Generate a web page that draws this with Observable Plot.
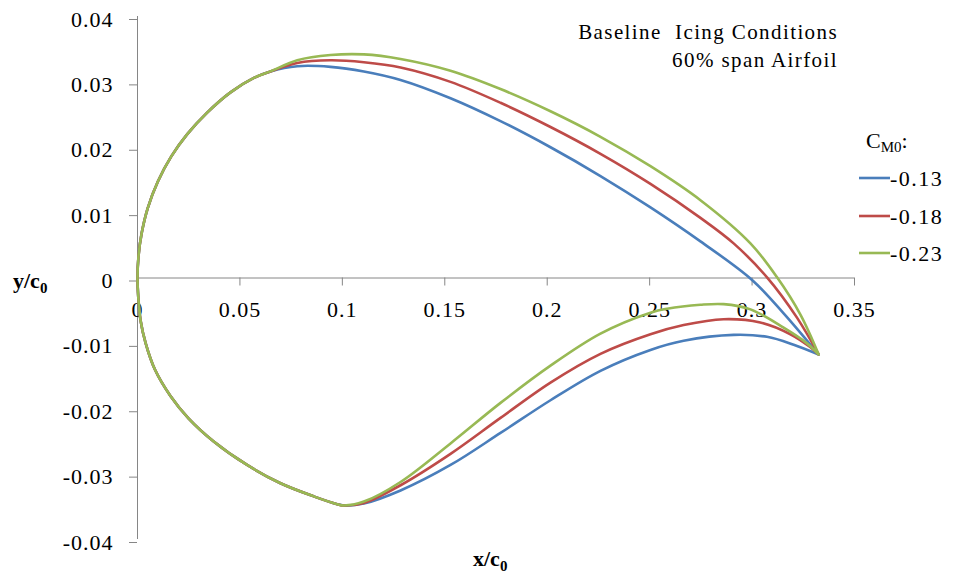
<!DOCTYPE html>
<html><head><meta charset="utf-8">
<script src="https://cdn.jsdelivr.net/npm/d3@7"></script>
<script src="https://cdn.jsdelivr.net/npm/@observablehq/plot@0.6"></script>
<style>
body{margin:0;background:#fff}
#chart svg{display:block;font-family:"Liberation Serif","Times New Roman",serif !important}
</style>
</head><body><div id="chart"></div>
<script>
// ---- data ----
const series = ["-0.13", "-0.18", "-0.23"];
const colors = ["#4A7EBB", "#BE4B48", "#98B954"];
const xTicks = [0, 0.05, 0.1, 0.15, 0.2, 0.25, 0.3, 0.35];
const yTicks = [-0.04, -0.03, -0.02, -0.01, 0, 0.01, 0.02, 0.03, 0.04];

// shared leading-edge (nose) part, from upper surface x=0.065 round to lower minimum
const noseX = [0.0649, 0.0568, 0.0454, 0.0340, 0.0243, 0.0165, 0.0100, 0.0050, 0.0020, 0.0005, 0.0000,
               0.0004, 0.0015, 0.0040, 0.0085, 0.0160, 0.0250, 0.0372, 0.0535, 0.0698, 0.0860, 0.0975, 0.1007];
const noseY = [0.0316, 0.0306, 0.0284, 0.0253, 0.0220, 0.0186, 0.0148, 0.0107, 0.0068, 0.0034, 0.0000,
               -0.0030, -0.0065, -0.0100, -0.0140, -0.0180, -0.0215, -0.0250, -0.0286, -0.0314, -0.0334, -0.0346, -0.0348];

// CM0 = -0.13 (upper: from trailing tip going forward; lower: from minimum going aft)
const upperX013 = [0.3325, 0.3154, 0.3000, 0.2748, 0.2504, 0.2260, 0.2016, 0.1772, 0.1528, 0.1284, 0.1105, 0.0942, 0.0780];
const upperY013 = [-0.0117, -0.0054, -0.0003, 0.0056, 0.0108, 0.0156, 0.0200, 0.0240, 0.0275, 0.0303, 0.0316, 0.0323, 0.0324];
const lowerX013 = [0.1105, 0.1284, 0.1528, 0.1772, 0.2016, 0.2260, 0.2504, 0.2666, 0.2910, 0.3073, 0.3203, 0.3325];
const lowerY013 = [-0.0345, -0.0325, -0.0286, -0.0237, -0.0187, -0.0142, -0.0110, -0.0096, -0.0087, -0.0090, -0.0102, -0.0117];

// CM0 = -0.18
const upperX018 = [0.3325, 0.3220, 0.3073, 0.2910, 0.2748, 0.2504, 0.2260, 0.2016, 0.1772, 0.1528, 0.1284, 0.1105, 0.0942, 0.0780];
const upperY018 = [-0.0117, -0.0061, 0.0001, 0.0053, 0.0092, 0.0144, 0.0190, 0.0231, 0.0268, 0.0300, 0.0322, 0.0330, 0.0333, 0.0329];
const lowerX018 = [0.1105, 0.1284, 0.1528, 0.1772, 0.2016, 0.2260, 0.2504, 0.2666, 0.2861, 0.3040, 0.3187, 0.3285, 0.3325];
const lowerY018 = [-0.0344, -0.0317, -0.0269, -0.0214, -0.0160, -0.0116, -0.0086, -0.0072, -0.0063, -0.0068, -0.0086, -0.0106, -0.0117];

// CM0 = -0.23
const upperX023 = [0.3325, 0.3236, 0.3122, 0.2992, 0.2748, 0.2504, 0.2260, 0.2016, 0.1772, 0.1528, 0.1284, 0.1105, 0.0942, 0.0780];
const upperY023 = [-0.0117, -0.0056, 0.0001, 0.0053, 0.0119, 0.0171, 0.0216, 0.0255, 0.0289, 0.0317, 0.0335, 0.0342, 0.0341, 0.0333];
const lowerX023 = [0.1105, 0.1284, 0.1528, 0.1772, 0.2016, 0.2260, 0.2504, 0.2585, 0.2748, 0.2861, 0.2992, 0.3154, 0.3268, 0.3325];
const lowerY023 = [-0.0342, -0.0312, -0.0253, -0.0191, -0.0134, -0.0085, -0.0053, -0.0047, -0.0041, -0.0040, -0.0048, -0.0076, -0.0100, -0.0117];

// ---- build table ----
const parts = [
  [upperX013, upperY013, lowerX013, lowerY013],
  [upperX018, upperY018, lowerX018, lowerY018],
  [upperX023, upperY023, lowerX023, lowerY023]
];
const rows = [];
parts.forEach(([ux, uy, lx, ly], k) => {
  const s = series[k];
  ux.forEach((x, i) => rows.push({s, x, y: uy[i]}));
  noseX.forEach((x, i) => rows.push({s, x, y: noseY[i]}));
  lx.forEach((x, i) => rows.push({s, x, y: ly[i]}));
});

const fmt = d => d === 0 ? "0" : String(d);
const axisGray = "#868686";
const font = "'Liberation Serif', 'Times New Roman', serif";

const chart = Plot.plot({
  width: 955,
  height: 579,
  marginLeft: 137,
  marginRight: 101,
  marginTop: 16,
  marginBottom: 40,
  style: {fontFamily: font, fontSize: "22px", background: "#fff", color: "#000"},
  x: {domain: [0, 0.35], axis: null},
  y: {domain: [-0.04, 0.04], axis: null},
  color: {domain: series, range: colors},
  marks: [
    Plot.ruleX([0], {stroke: axisGray, strokeWidth: 1}),
    Plot.ruleY([0], {stroke: axisGray, strokeWidth: 1}),
    Plot.axisY(yTicks, {tickSize: 8, tickPadding: 16, tickFormat: fmt, stroke: axisGray, fill: "#000", dy: 3, fontSize: 22, fontFamily: font, label: null}),
    Plot.ruleX(xTicks, {x: d => d, y1: 0, y2: 0, insetBottom: -8, stroke: axisGray}),
    Plot.text(xTicks, {x: d => d, y: 0, text: fmt, dy: 32, fontSize: 22, fontFamily: font, fill: "#000"}),
    Plot.line(rows, {x: "x", y: "y", z: "s", stroke: "s", strokeWidth: 2.6, curve: "catmull-rom"})
  ]
});
document.getElementById("chart").append(chart);

// ---- annotations, legend ----
const svg = d3.select(chart);
svg.selectAll("text").attr("letter-spacing", "1").attr("font-family", font);
const g = svg.append("g").attr("font-family", font).attr("fill", "#000").attr("text-anchor", "start");

g.append("text").attr("x", 838).attr("y", 39).attr("text-anchor", "end").attr("font-size", 21).attr("letter-spacing", 1.4)
  .text("Baseline  Icing Conditions");
g.append("text").attr("x", 838).attr("y", 67).attr("text-anchor", "end").attr("font-size", 21).attr("letter-spacing", 1.4)
  .text("60% span Airfoil");

// legend title C_M0:
const lt = g.append("text").attr("x", 866).attr("y", 148).attr("font-size", 22);
lt.append("tspan").text("C");
lt.append("tspan").attr("font-size", 15).attr("dy", 4).text("M0");
lt.append("tspan").attr("dy", -4).text(":");

const legendY = [178, 216, 253];
series.forEach((s, i) => {
  g.append("line").attr("x1", 859).attr("x2", 890).attr("y1", legendY[i]).attr("y2", legendY[i])
    .attr("stroke", colors[i]).attr("stroke-width", 2.6);
  g.append("text").attr("x", 890).attr("y", legendY[i] + 8).attr("font-size", 22).attr("letter-spacing", 1.5).text(s);
});

// axis titles
const yl = g.append("text").attr("x", 13).attr("y", 288).attr("font-size", 22).attr("font-weight", "bold");
yl.append("tspan").text("y/c");
yl.append("tspan").attr("font-size", 15).attr("dy", 5).text("0");

const xl = g.append("text").attr("x", 473).attr("y", 566).attr("font-size", 22).attr("font-weight", "bold");
xl.append("tspan").text("x/c");
xl.append("tspan").attr("font-size", 15).attr("dy", 5).text("0");
</script>
</body></html>
